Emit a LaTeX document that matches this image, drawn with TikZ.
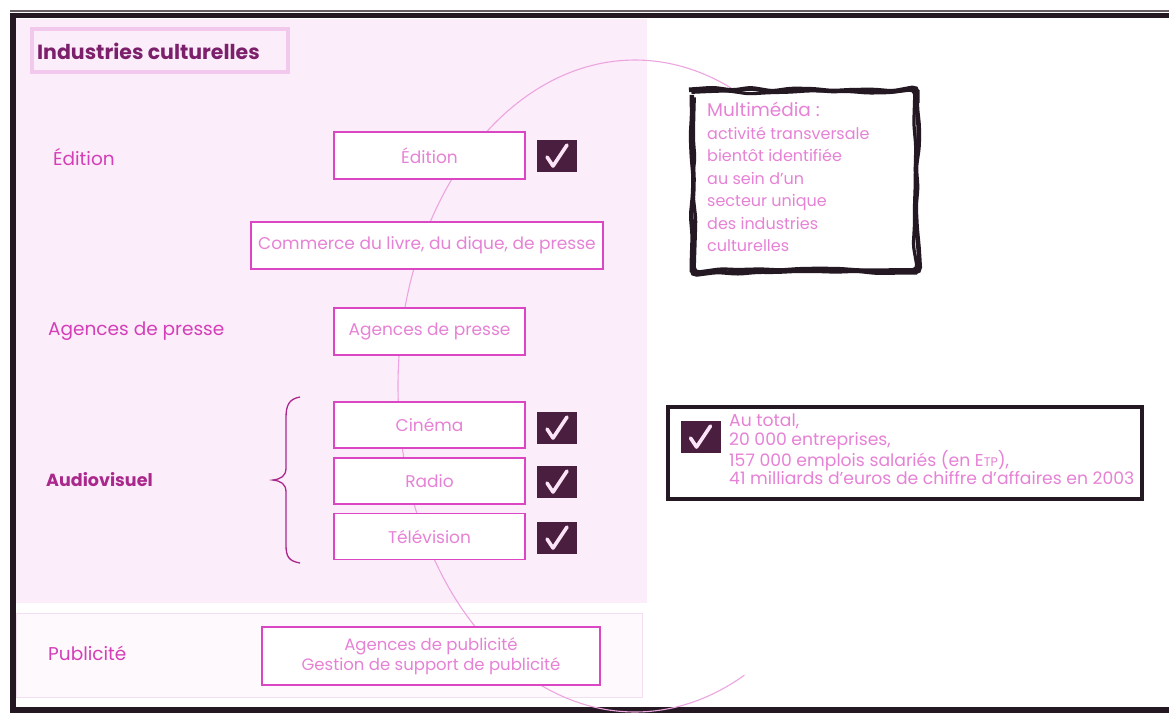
\documentclass[tikz,border=0pt]{standalone}
\usepackage{fontspec}
\setmainfont{Poppins}
\usetikzlibrary{decorations.pathmorphing,calc}
\definecolor{pinkbg}{RGB}{251,237,249}
\definecolor{pubbg}{RGB}{254,249,253}
\definecolor{publine}{RGB}{244,222,241}
\definecolor{mag}{RGB}{218,70,195}
\definecolor{magtext}{RGB}{230,130,214}
\definecolor{maglabel}{RGB}{212,62,184}
\definecolor{magdark}{RGB}{170,40,140}
\definecolor{plum}{RGB}{74,30,62}
\definecolor{framec}{RGB}{36,24,34}
\definecolor{titlec}{RGB}{125,32,108}
\definecolor{faint}{RGB}{242,200,236}
\definecolor{arcc}{RGB}{236,165,224}
\definecolor{checkc}{RGB}{252,228,248}
\tikzset{
  catbox/.style={draw=mag, line width=1.5pt, fill=white, inner sep=0pt, text=magtext,
    font=\fontsize{17}{20}\selectfont, align=center},
  leftlabel/.style={anchor=west, inner sep=0pt, text=maglabel, font=\fontsize{18.5}{21}\selectfont},
  tick/.style={fill=plum, minimum width=40pt, minimum height=32pt, inner sep=0pt,
    path picture={\draw[checkc, line width=3.6pt, line cap=round, line join=round]
      ($(path picture bounding box.center)+(-10pt,-1pt)$) --
      ($(path picture bounding box.center)+(-4pt,-10pt)$) --
      ($(path picture bounding box.center)+(10pt,11pt)$);}},
  wobbly/.style={draw=framec, line width=4.6pt, rounded corners=5pt, decorate,
    decoration={random steps, segment length=20pt, amplitude=1.8pt}},
}
\begin{document}
\begin{tikzpicture}[x=1pt,y=-1pt]
\useasboundingbox (0,0) rectangle (1169,713);
\fill[white] (0,0) rectangle (1169,713);
% panels
\fill[pinkbg] (16,19) rectangle (647,603);
\filldraw[fill=pubbg, draw=publine, line width=1pt] (16,613) rectangle (642,697);
% frame
\draw[framec!70, line width=1.2pt] (10,11) -- (1169,11);
\draw[framec, line width=5pt] (10,15.5) -- (1169,15.5);
\draw[framec, line width=6pt] (13,13) -- (13,713);
\draw[framec, line width=6pt] (10,710) -- (1169,710);
% arc (ellipse) behind boxes
\coordinate (arcstart) at (731,88);
\draw[arcc, line width=1.1pt] plot[domain=66:297.5, samples=120, smooth] ({635+237*cos(\x)},{386-326*sin(\x)});
% title
\node[draw=faint, line width=3.5pt, minimum width=256pt, minimum height=43pt, inner sep=0pt] (title) at (160,50.5) {};
\node[anchor=west, inner sep=0pt, text=titlec, font=\bfseries\fontsize{20.5}{22}\selectfont] (titletext) at (37,51) {Industries culturelles};
% left labels
\node[leftlabel] (lEd) at (53,157) {Édition};
\node[leftlabel] (lAg) at (48,331) {Agences de presse};
\node[leftlabel, text=magdark, font=\bfseries\fontsize{17.5}{20}\selectfont] (lAv) at (46,480) {Audiovisuel};
\node[leftlabel] (lPub) at (48,653) {Publicité};
% boxes
\node[catbox, minimum width=191pt, minimum height=47pt] (ed) at (429.5,155.5) {Édition};
\node[catbox, minimum width=352pt, minimum height=47pt] (com) at (427,245.5) {Commerce du livre, du dique, de presse};
\node[catbox, minimum width=191pt, minimum height=47pt] (ag) at (429.5,331.5) {Agences de presse};
\node[catbox, minimum width=191pt, minimum height=46pt] (cin) at (429.5,425) {Cinéma};
\node[catbox, minimum width=191pt, minimum height=46pt] (rad) at (429.5,481) {Radio};
\node[catbox, minimum width=191pt, minimum height=46pt] (tel) at (429.5,536.5) {Télévision};
\node[catbox, minimum width=338pt, minimum height=58pt, font=\fontsize{16.5}{20}\selectfont] (pub) at (431,656) {Agences de publicité\\Gestion de support de publicité};
% ticks
\node[tick] (tEd) at (557,156) {};
\node[tick] (tCin) at (557,428) {};
\node[tick] (tRad) at (557,482) {};
\node[tick] (tTel) at (557,538) {};
% brace
\draw[magdark, line width=1.3pt] (300,397) .. controls (289,399) and (286,405) .. (286,418) -- (286,468)
  .. controls (286,476) and (281,479) .. (273,480) .. controls (281,481) and (286,484) .. (286,492)
  -- (286,545) .. controls (286,557) and (289,561) .. (300,563);
% multimedia
\node[fill=white, minimum width=225pt, minimum height=182pt, inner sep=0pt] (mm) at (804.5,181) {};
\pgfmathsetseed{7}
\draw[wobbly] (mm.north west) rectangle (mm.south east);
\pgfmathsetseed{19}
\draw[wobbly, line width=3.2pt] ($(mm.north west)+(2.5pt,-2.5pt)$) rectangle ($(mm.south east)+(-2.5pt,2.5pt)$);
\node[anchor=north west, inner sep=0pt, align=left, text=magtext, font=\fontsize{16}{22.5}\selectfont] (mmtext) at (707,102)
  {{\fontsize{18.5}{20}\selectfont Multimédia :}\\activité transversale\\bientôt identifiée\\au sein d'un\\secteur unique\\des industries\\culturelles};
% total box
\node[draw=framec, line width=4pt, fill=white, minimum width=474pt, minimum height=92pt, inner sep=0pt] (tot) at (905,453) {};
\node[tick] (tTot) at (700.5,437) {};
\node[anchor=north west, inner sep=0pt, align=left, text=magtext, font=\fontsize{17.2}{18.2}\selectfont] (tottext) at (729,414)
  {Au total,\\20 000 entreprises,\\157 000 emplois salariés (en E{\fontsize{12.5}{14}\selectfont TP}),\\41 milliards d'euros de chiffre d'affaires en 2003};
\end{tikzpicture}
\end{document}
